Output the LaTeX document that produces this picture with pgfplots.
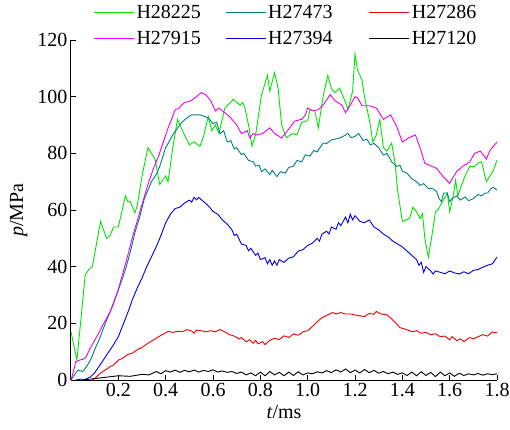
\documentclass[border=0pt]{standalone}
\usepackage{fontspec}
\setmainfont{Liberation Serif}
\usepackage{pgfplots}
\pgfplotsset{compat=1.18}
\definecolor{serA}{RGB}{0,230,0}
\definecolor{serB}{RGB}{0,128,128}
\definecolor{serC}{RGB}{240,0,0}
\definecolor{serD}{RGB}{240,0,240}
\definecolor{serE}{RGB}{0,0,225}
\begin{document}
\begin{tikzpicture}
\begin{axis}[name=ax,
  width=426pt, height=340pt, scale only axis,
  xmin=0, xmax=1.8, ymin=0, ymax=120,
  axis lines=left, axis line style={-, line width=1pt},
  tick align=inside, major tick length=5pt,
  tick style={line width=1pt, black},
  xtick={0.2,0.4,...,1.8}, ytick={0,20,...,120},
  xticklabel style={/pgf/number format/fixed, /pgf/number format/fixed zerofill, /pgf/number format/precision=1},
  /pgf/number format/assume math mode=true,
  tick label style={font=\fontsize{20}{23}\selectfont},
  label style={font=\fontsize{20}{23}\selectfont},
  xlabel={\textit{t}/ms}, ylabel={\textit{p}/MPa},
  xlabel style={at={(rel axis cs:0.5,0)}, anchor=north, yshift=-22pt},
  ylabel style={at={(rel axis cs:0,0.5)}, anchor=south, yshift=40pt},
  legend columns=3,
  legend style={draw=none, fill=none, inner sep=0pt, at={(rel axis cs:0.052,1)}, anchor=north west, yshift=37pt,
    font=\fontsize{20}{23}\selectfont,
    /tikz/column 2/.style={column sep=22pt},
    /tikz/column 4/.style={column sep=34pt},
    row sep=7pt},
  legend cell align=left,
  legend image code/.code={\draw[#1, line width=1.2pt] (0pt,0pt) -- (40pt,0pt);},
  every axis plot/.append style={line width=0.9pt},
]
\addplot[color=serA] coordinates {(0,17) (0.025,7) (0.06,37) (0.075,39) (0.09,40) (0.125,56) (0.15,50) (0.165,51) (0.18,54) (0.2,54) (0.23,65) (0.24,63) (0.25,63) (0.27,59) (0.28,61.5) (0.30,72) (0.325,82) (0.355,78) (0.375,69) (0.40,72) (0.41,70) (0.43,82) (0.45,92) (0.46,90) (0.485,85.5) (0.50,83) (0.52,84) (0.545,82.5) (0.56,86) (0.58,93) (0.595,88) (0.61,90) (0.625,87) (0.65,96) (0.685,99) (0.715,97) (0.725,98) (0.735,96) (0.75,90) (0.765,82.5) (0.78,86.5) (0.805,100.7) (0.83,107.5) (0.84,102) (0.86,108.5) (0.875,103) (0.89,90) (0.91,85.5) (0.935,87) (0.955,86.5) (0.975,91) (1.0,91.5) (1.01,95.4) (1.03,95) (1.045,89) (1.065,100) (1.085,107.5) (1.10,103) (1.115,101.4) (1.135,103) (1.16,98) (1.17,95.4) (1.19,102) (1.20,115) (1.21,109.6) (1.23,105.7) (1.24,100) (1.265,90) (1.275,84) (1.29,86.5) (1.305,92) (1.32,82) (1.335,80.8) (1.355,83.6) (1.37,76) (1.38,67) (1.40,56) (1.43,57) (1.445,61) (1.46,59.4) (1.475,57) (1.485,58.7) (1.495,50) (1.51,43.4) (1.525,51) (1.54,59.4) (1.55,60) (1.57,63) (1.59,66) (1.60,59.4) (1.615,65) (1.625,70.5) (1.635,65) (1.65,68.7) (1.665,72) (1.685,75.4) (1.705,75.4) (1.72,76.5) (1.735,77) (1.755,70) (1.77,72) (1.785,74) (1.80,77.6)};
\addlegendentry{H28225}
\addplot[color=serB] coordinates {(0.0,0) (0.02,2.5) (0.03,3.5) (0.05,3) (0.07,5.3) (0.085,7.5) (0.10,10.7) (0.12,14.5) (0.145,20) (0.165,24) (0.185,28.5) (0.21,34) (0.23,39) (0.25,45) (0.27,52) (0.29,57.5) (0.31,64) (0.34,70) (0.36,72.5) (0.375,75.4) (0.40,82) (0.43,86.5) (0.465,90.7) (0.49,92.5) (0.51,93.6) (0.545,93.6) (0.58,92.5) (0.60,90.5) (0.615,91) (0.63,87) (0.645,88) (0.66,84) (0.675,84.5) (0.69,81.5) (0.70,82) (0.72,79.5) (0.73,80) (0.75,77.5) (0.77,77) (0.78,75.5) (0.795,75.8) (0.805,73.5) (0.82,74.5) (0.84,72.5) (0.85,74) (0.87,71.8) (0.885,73.5) (0.905,73) (0.92,75) (0.94,75.5) (0.955,77.5) (0.975,77) (0.99,79.5) (1.01,79) (1.025,81) (1.04,80.5) (1.065,83.6) (1.08,83.5) (1.10,84.7) (1.135,85.4) (1.15,86) (1.17,87) (1.185,85.5) (1.20,86) (1.215,87) (1.235,84.5) (1.25,85) (1.265,83) (1.28,83.5) (1.30,82) (1.32,79.4) (1.335,80) (1.355,77) (1.375,75.4) (1.39,75.8) (1.40,73.7) (1.42,73) (1.44,71) (1.46,70) (1.475,68.7) (1.49,69.3) (1.51,67.6) (1.53,67.5) (1.545,66.5) (1.555,64) (1.565,63) (1.575,66) (1.59,66) (1.60,63) (1.61,64) (1.63,65) (1.645,63.5) (1.665,64.6) (1.68,63.3) (1.70,64) (1.72,65.5) (1.735,65) (1.75,66) (1.76,66) (1.775,67.6) (1.785,68) (1.8,67)};
\addlegendentry{H27473}
\addplot[color=serC] coordinates {(0.09,0) (0.1,0.5) (0.125,2.5) (0.15,3.8) (0.165,4.7) (0.18,5.3) (0.20,7) (0.22,7.8) (0.24,9) (0.26,9.5) (0.28,10.7) (0.30,11.5) (0.325,13) (0.35,14.2) (0.37,15.3) (0.39,16.2) (0.41,17.2) (0.43,16.8) (0.45,17.2) (0.47,17) (0.49,17.8) (0.51,17.3) (0.52,16.5) (0.53,17.6) (0.55,17.4) (0.57,17) (0.59,17.4) (0.61,17) (0.63,17.8) (0.65,17) (0.67,16) (0.69,15.5) (0.71,14.5) (0.72,15) (0.74,13.5) (0.755,14.2) (0.77,13) (0.78,14) (0.79,12.8) (0.81,13.5) (0.82,12.5) (0.84,14) (0.86,14.7) (0.88,14.3) (0.9,15.6) (0.92,15) (0.94,16.3) (0.96,15.8) (0.98,17) (1.0,17.4) (1.02,18.9) (1.04,20.5) (1.06,22) (1.08,22.8) (1.105,23.8) (1.12,23.3) (1.14,23.8) (1.16,23.3) (1.18,23.3) (1.21,22.8) (1.24,22.4) (1.26,23.5) (1.28,23.2) (1.29,24.2) (1.31,23.3) (1.335,23) (1.35,22) (1.37,20.3) (1.39,18.5) (1.41,18) (1.43,17.4) (1.445,17) (1.46,17.4) (1.48,16.5) (1.5,16.8) (1.52,16) (1.54,16.3) (1.56,15.3) (1.58,15.5) (1.6,14.2) (1.61,15.3) (1.63,13.9) (1.645,14.5) (1.66,13.6) (1.685,15) (1.7,14.5) (1.72,15.3) (1.74,16) (1.76,15.5) (1.78,16.9) (1.8,16.7)};
\addlegendentry{H27286}
\addplot[color=serD] coordinates {(0.0,0) (0.01,3) (0.02,6.4) (0.035,7) (0.05,7.3) (0.063,8) (0.08,11) (0.10,14) (0.12,17) (0.135,19.5) (0.165,24) (0.18,27) (0.20,32) (0.22,38) (0.24,44) (0.26,50.5) (0.283,57) (0.30,62) (0.325,69) (0.35,75) (0.37,79) (0.39,84) (0.41,89) (0.425,92) (0.44,95.4) (0.455,95.8) (0.465,96.8) (0.48,98) (0.50,98.3) (0.515,99) (0.53,100) (0.55,101.4) (0.57,100.7) (0.59,98.6) (0.61,95) (0.625,96) (0.65,94.3) (0.67,93) (0.70,90) (0.72,87) (0.745,88) (0.755,85.4) (0.77,87) (0.785,86.5) (0.81,87) (0.84,89) (0.86,87) (0.89,85.4) (0.915,88) (0.945,91.4) (0.975,92) (0.99,93.5) (1.0,96) (1.02,95) (1.045,95.4) (1.065,97) (1.095,100.7) (1.115,98.6) (1.145,97) (1.16,94.3) (1.18,97) (1.20,100) (1.21,99.6) (1.23,96.8) (1.26,96.8) (1.29,96) (1.32,92) (1.35,93.6) (1.375,89.7) (1.40,84) (1.425,85.4) (1.455,86.5) (1.475,82) (1.495,76.5) (1.525,75.4) (1.545,74.7) (1.57,72) (1.60,69.4) (1.63,73.7) (1.655,75.4) (1.685,77) (1.705,80) (1.73,80.8) (1.755,78) (1.77,81) (1.8,84)};
\addlegendentry{H27915}
\addplot[color=serE] coordinates {(0.02,0) (0.04,0.3) (0.06,0.2) (0.08,1) (0.1,2.5) (0.12,5) (0.14,7.5) (0.16,10) (0.18,12.5) (0.2,15.3) (0.22,19.5) (0.24,23.8) (0.26,28.5) (0.28,32.5) (0.3,36) (0.32,40) (0.34,43.5) (0.36,47) (0.38,51) (0.40,55.5) (0.42,58.5) (0.44,60.5) (0.46,61) (0.48,62.5) (0.50,63.5) (0.51,62.8) (0.52,64.5) (0.53,63.6) (0.54,64.4) (0.56,63) (0.58,61.5) (0.60,59.5) (0.62,58.5) (0.64,56.5) (0.66,55) (0.68,53) (0.69,51) (0.70,51.5) (0.72,48) (0.74,47.5) (0.75,45.6) (0.76,46.5) (0.78,44) (0.79,44.8) (0.80,42.5) (0.82,43.2) (0.83,41) (0.84,42.5) (0.85,40.5) (0.86,42) (0.87,40.5) (0.88,42.5) (0.90,41.5) (0.92,43) (0.94,43.5) (0.96,45.5) (0.98,46) (1.0,47.5) (1.02,48.3) (1.04,50) (1.05,49) (1.06,51.5) (1.08,52.5) (1.09,51.5) (1.10,54) (1.12,53.2) (1.13,55.5) (1.14,54.5) (1.16,57.5) (1.17,55.5) (1.18,58.5) (1.19,56.5) (1.2,58) (1.21,57) (1.22,56) (1.24,55.5) (1.26,56.5) (1.28,54) (1.30,53) (1.32,51.5) (1.34,50.5) (1.36,49) (1.38,48) (1.40,47) (1.42,45.5) (1.44,44) (1.46,42.5) (1.47,40.5) (1.48,41.5) (1.49,38) (1.50,40) (1.52,38.5) (1.53,37.4) (1.54,38.5) (1.56,38) (1.58,37.5) (1.60,38.5) (1.62,37.8) (1.64,37.4) (1.66,38.2) (1.68,37.5) (1.70,38.7) (1.72,39) (1.74,39.8) (1.76,40.5) (1.78,41) (1.80,43.4)};
\addlegendentry{H27394}
\addplot[color=black] coordinates {(0.05,0) (0.1,0.5) (0.15,1) (0.2,1.5) (0.25,1.3) (0.3,2) (0.33,1.8) (0.36,3) (0.38,2.2) (0.4,3.3) (0.42,2.8) (0.44,3.5) (0.46,2.7) (0.48,3.4) (0.5,2.9) (0.52,3.5) (0.54,2.8) (0.56,3.4) (0.58,3) (0.6,3.6) (0.62,2.8) (0.64,3.2) (0.66,2.7) (0.68,3) (0.7,2.3) (0.72,2.8) (0.74,1.8) (0.76,2.5) (0.78,1.5) (0.8,2.8) (0.82,1.5) (0.84,3) (0.86,1.8) (0.88,2.7) (0.9,1.5) (0.92,2.8) (0.94,1.6) (0.96,2.9) (0.98,1.8) (1.0,2.5) (1.02,2.2) (1.04,2.9) (1.06,2.5) (1.08,3.3) (1.1,2.6) (1.12,3.6) (1.14,2.8) (1.16,3.9) (1.18,2.6) (1.2,3.5) (1.22,2.5) (1.24,3.7) (1.26,2.6) (1.28,3.4) (1.3,2.4) (1.32,3) (1.34,2.2) (1.36,2.8) (1.38,2) (1.4,2.5) (1.42,1.6) (1.44,2.8) (1.46,1.5) (1.48,2.9) (1.5,1.6) (1.52,2.7) (1.54,1.2) (1.56,2.8) (1.58,1.5) (1.6,2.5) (1.62,1.3) (1.64,2.4) (1.66,1.6) (1.68,2.2) (1.7,1.8) (1.72,2.3) (1.74,1.7) (1.76,2.2) (1.78,1.9) (1.8,2.2)};
\addlegendentry{H27120}
\end{axis}
\pgfresetboundingbox
\path (ax.south west) ++(-71pt,-49pt) coordinate (bbA);
\path (ax.north east) ++(13pt,40pt) coordinate (bbB);
\useasboundingbox (bbA) rectangle (bbB);
\end{tikzpicture}
\end{document}
